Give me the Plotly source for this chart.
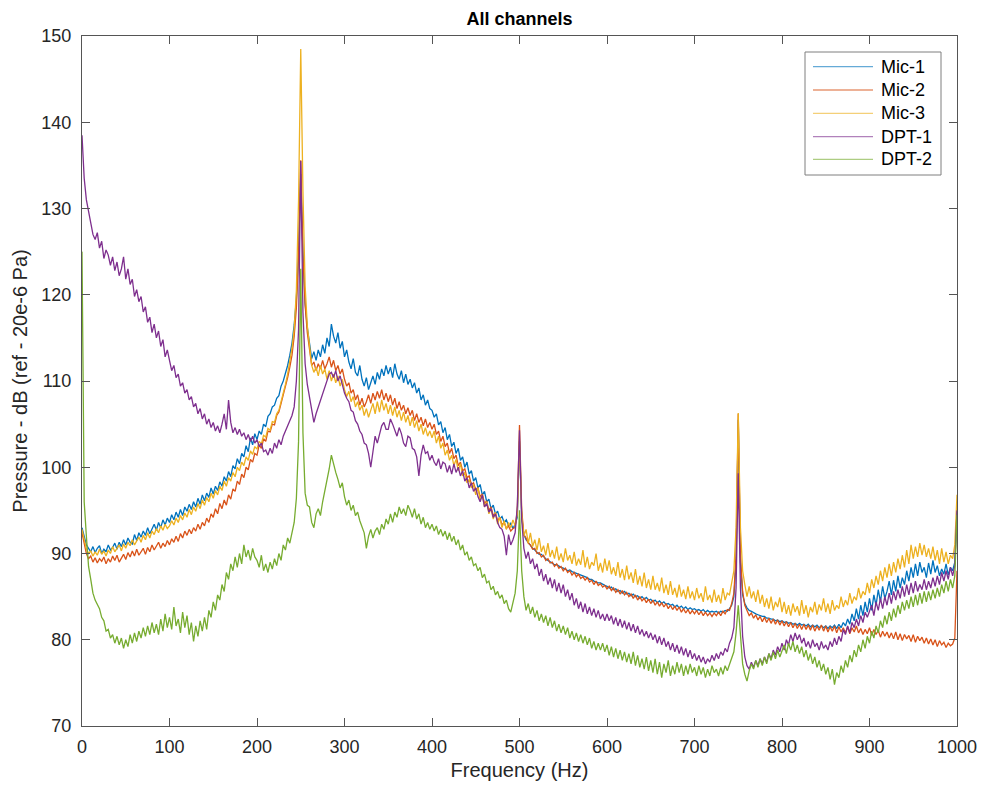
import plotly.graph_objects as go

# frequency grid (Hz), 2.5 Hz spacing
freq = [i * 2.5 for i in range(401)]

mic1 = [
    93.0, 92.0, 91.0, 90.6, 90.2, 90.8, 90.1, 90.6, 90.9, 90.0,
    90.5, 90.2, 91.0, 90.4, 90.7, 91.2, 90.5, 91.3, 90.8, 91.6,
    91.0, 91.8, 91.3, 91.1, 92.2, 91.5, 92.4, 91.9, 92.6, 92.1,
    93.0, 92.3, 92.8, 93.4, 92.7, 93.6, 93.0, 93.9, 93.3, 94.1,
    93.6, 94.5, 93.9, 94.8, 94.2, 95.1, 94.4, 95.4, 94.9, 95.7,
    95.1, 96.0, 95.4, 96.4, 95.7, 96.8, 96.1, 97.0, 96.5, 97.6,
    96.9, 97.8, 97.3, 98.3, 97.8, 98.9, 98.4, 99.5, 98.9, 100.2,
    99.8, 101.0, 100.4, 101.6, 101.2, 102.5, 101.8, 103.4, 102.6, 103.9,
    103.2, 104.2, 103.8, 105.0, 104.7, 105.9, 106.2, 107.0, 107.2, 108.0,
    108.3, 109.4, 110.0, 110.8, 111.8, 113.0, 114.4, 116.5, 119.5, 125.0,
    134.0, 125.0, 119.0, 116.2, 114.2, 112.6, 113.4, 112.4, 113.6, 112.8,
    114.2, 113.2, 115.0, 114.0, 116.6, 115.2, 114.4, 115.6, 113.8, 114.6,
    112.8, 113.6, 112.2, 111.4, 112.6, 111.0, 110.6, 111.8, 110.2, 109.4,
    110.4, 109.0, 109.8, 110.6, 109.6, 111.0, 110.2, 111.4, 110.6, 111.8,
    110.8, 111.6, 110.4, 112.0, 110.8, 110.2, 111.2, 109.8, 110.8, 109.6,
    110.2, 109.2, 109.8, 108.6, 109.2, 107.8, 108.4, 107.2, 107.8, 106.8,
    106.6, 105.8, 106.2, 104.9, 105.3, 104.0, 104.6, 103.2, 103.8, 102.4,
    102.9, 101.6, 102.2, 100.8, 101.2, 100.0, 100.6, 99.2, 99.6, 98.4,
    98.8, 97.6, 98.0, 96.8, 97.2, 96.0, 96.3, 95.2, 95.6, 94.6,
    94.9, 94.0, 94.3, 93.6, 93.9, 93.2, 93.5, 92.9, 93.4, 94.2,
    103.0, 94.2, 92.2, 91.6, 91.3, 90.9, 90.6, 90.4, 90.2, 89.9,
    89.9, 89.6, 89.4, 89.2, 89.0, 88.9, 88.7, 88.7, 88.5, 88.4,
    88.3, 88.2, 88.0, 88.1, 87.9, 87.8, 87.7, 87.6, 87.5, 87.4,
    87.3, 87.2, 87.0, 87.0, 86.8, 86.7, 86.6, 86.6, 86.4, 86.3,
    86.2, 86.0, 86.1, 85.8, 85.9, 85.6, 85.7, 85.4, 85.6, 85.3,
    85.4, 85.1, 85.3, 85.0, 85.1, 84.8, 85.0, 84.7, 84.9, 84.6,
    84.7, 84.4, 84.6, 84.3, 84.5, 84.2, 84.4, 84.1, 84.2, 84.0,
    84.1, 83.8, 84.0, 83.7, 83.9, 83.6, 83.8, 83.5, 83.7, 83.5,
    83.6, 83.4, 83.5, 83.3, 83.5, 83.2, 83.4, 83.2, 83.3, 83.2,
    83.3, 83.1, 83.3, 83.2, 83.4, 83.3, 83.6, 84.0, 85.0, 89.0,
    105.5, 89.0, 85.2, 84.2, 83.7, 83.4, 83.3, 83.1, 83.0, 82.9,
    82.8, 82.7, 82.7, 82.5, 82.5, 82.4, 82.4, 82.2, 82.3, 82.1,
    82.2, 82.0, 82.1, 81.9, 82.0, 81.8, 81.9, 81.7, 81.9, 81.7,
    81.8, 81.6, 81.8, 81.5, 81.7, 81.5, 81.7, 81.4, 81.6, 81.4,
    81.6, 81.3, 81.6, 81.4, 81.7, 81.3, 81.8, 81.4, 82.0, 81.6,
    82.4, 81.8, 83.0, 82.2, 83.6, 82.4, 84.0, 82.8, 84.4, 83.2,
    84.8, 83.4, 85.2, 84.0, 85.8, 84.4, 86.2, 84.8, 85.6, 86.8,
    85.2, 86.9, 85.6, 87.4, 86.0, 87.2, 86.4, 88.0, 86.8, 88.4,
    87.2, 88.8, 87.4, 89.0, 87.8, 88.4, 87.2, 88.9, 87.6, 89.2,
    87.8, 88.6, 87.4, 88.2, 87.6, 88.8, 87.5, 88.4, 88.0, 89.0,
    95.0,
]

mic2 = [
    92.4, 91.0, 90.0, 89.4, 89.7, 89.0, 89.5, 88.9, 89.4, 89.1,
    89.6, 88.8, 89.4, 89.0, 89.7, 89.2, 89.8, 89.0, 89.5, 89.9,
    89.3, 90.1, 89.6, 90.3, 89.7, 90.5, 89.8, 90.2, 90.6, 89.9,
    90.7, 90.2, 91.0, 90.4, 90.8, 91.3, 90.6, 91.2, 90.8, 91.5,
    91.0, 91.7, 91.3, 92.0, 91.4, 92.3, 91.8, 92.6, 92.1, 92.8,
    92.3, 93.0, 92.6, 93.4, 92.8, 93.6, 93.2, 94.1, 93.6, 94.6,
    94.2, 95.2, 94.6, 95.8, 95.2, 96.2, 95.6, 96.8, 96.3, 97.5,
    97.2, 98.4, 98.0, 99.2, 98.8, 100.0, 99.7, 100.9, 100.6, 101.6,
    101.4, 102.6, 102.2, 103.3, 103.0, 104.2, 104.1, 105.0, 104.9, 106.0,
    106.4, 107.4, 108.2, 109.3, 110.4, 111.6, 113.0, 115.2, 118.5, 124.5,
    135.6, 124.5, 118.8, 115.6, 113.4, 111.8, 112.2, 111.2, 112.0, 111.4,
    112.4, 111.4, 112.0, 112.8, 111.6, 112.4, 111.2, 111.8, 110.8, 111.4,
    110.2, 109.4, 109.8, 108.6, 109.0, 107.8, 108.4, 107.2, 108.0, 107.0,
    107.6, 108.4, 107.4, 108.6, 107.8, 108.8, 108.0, 109.0, 107.8, 108.6,
    107.6, 108.4, 107.2, 108.0, 106.8, 107.6, 106.6, 107.2, 106.2, 106.9,
    106.0, 106.6, 105.4, 106.2, 105.2, 105.8, 104.8, 105.6, 104.6, 105.2,
    104.4, 105.0, 103.8, 104.2, 103.0, 103.6, 102.4, 102.8, 101.6, 102.2,
    101.0, 101.4, 100.2, 100.6, 99.6, 99.8, 98.8, 99.0, 98.0, 98.2,
    97.4, 97.6, 96.6, 96.9, 95.8, 96.1, 95.0, 95.4, 94.4, 94.7,
    93.8, 94.2, 93.3, 93.6, 92.9, 93.2, 92.6, 92.9, 93.0, 95.0,
    104.9, 95.0, 92.2, 91.8, 91.2, 91.0, 90.5, 90.6, 90.0, 90.1,
    89.6, 89.8, 89.2, 89.4, 88.9, 89.0, 88.5, 88.8, 88.3, 88.5,
    88.0, 88.3, 87.8, 88.0, 87.5, 87.8, 87.3, 87.6, 87.1, 87.3,
    86.9, 87.2, 86.7, 86.9, 86.4, 86.8, 86.3, 86.5, 86.1, 86.3,
    85.9, 86.2, 85.7, 86.0, 85.5, 85.8, 85.3, 85.7, 85.2, 85.5,
    85.0, 85.3, 84.8, 85.2, 84.6, 85.0, 84.5, 84.8, 84.3, 84.7,
    84.2, 84.6, 84.0, 84.4, 83.9, 84.3, 83.8, 84.2, 83.6, 84.0,
    83.5, 83.9, 83.4, 83.8, 83.2, 83.6, 83.1, 83.5, 83.0, 83.4,
    83.0, 83.4, 82.9, 83.3, 82.8, 83.2, 82.8, 83.1, 82.7, 83.1,
    82.8, 83.2, 82.8, 83.3, 83.0, 83.5, 83.4, 84.2, 85.4, 89.8,
    106.2, 89.8, 85.6, 84.0, 83.4, 82.8, 83.1, 82.5, 82.9, 82.3,
    82.7, 82.1, 82.6, 82.0, 82.5, 81.9, 82.4, 81.8, 82.3, 81.7,
    82.2, 81.6, 82.1, 81.5, 82.0, 81.4, 81.9, 81.3, 81.8, 81.2,
    81.8, 81.2, 81.7, 81.1, 81.7, 81.0, 81.6, 81.1, 81.7, 81.0,
    81.6, 80.9, 81.5, 81.0, 81.6, 80.8, 81.5, 80.9, 81.4, 80.8,
    81.5, 80.7, 81.4, 80.9, 81.6, 80.8, 81.3, 80.6, 81.2, 80.7,
    81.4, 80.5, 81.2, 80.6, 81.1, 80.3, 81.0, 80.4, 80.9, 80.2,
    80.8, 80.1, 80.9, 80.0, 80.7, 79.9, 80.6, 80.1, 80.5, 79.8,
    80.6, 79.7, 80.4, 79.9, 80.3, 79.6, 80.2, 79.5, 80.1, 79.4,
    80.0, 79.2, 79.9, 79.4, 79.7, 79.1, 79.6, 79.3, 79.5, 80.2,
    88.0,
]

mic3 = [
    92.8, 91.6, 90.5, 90.0, 90.3, 89.7, 90.2, 89.8, 90.5, 89.9,
    90.3, 89.7, 90.4, 90.0, 90.8, 90.2, 90.6, 91.0, 90.3, 91.1,
    90.6, 91.3, 90.9, 91.6, 91.0, 91.4, 91.9, 91.3, 92.1, 91.6,
    92.4, 91.8, 92.6, 92.2, 92.9, 92.4, 93.2, 92.7, 93.4, 92.9,
    93.2, 93.8, 93.3, 94.1, 93.6, 94.4, 93.9, 94.7, 94.2, 95.1,
    94.5, 95.4, 94.9, 95.8, 95.2, 96.2, 95.6, 96.5, 96.0, 97.0,
    96.4, 97.3, 96.8, 97.8, 97.3, 98.4, 97.8, 98.8, 98.4, 99.4,
    98.9, 100.0, 99.6, 100.6, 100.2, 101.2, 100.8, 101.9, 101.5, 102.4,
    102.1, 103.0, 102.7, 103.7, 103.5, 104.5, 104.3, 105.3, 105.2, 106.2,
    106.6, 107.6, 108.5, 109.6, 110.8, 112.2, 113.8, 116.0, 120.5, 131.0,
    148.5, 132.0, 121.0, 116.4, 113.8, 111.8, 111.0, 111.6, 110.6, 111.8,
    110.8, 111.4, 110.2, 111.2, 110.0, 110.8, 109.8, 110.6, 109.4, 110.2,
    109.0, 108.2, 108.8, 107.6, 108.2, 107.0, 107.6, 106.6, 107.2, 106.0,
    106.8, 105.8, 106.6, 107.4, 106.2, 107.6, 106.4, 107.8, 106.6, 107.4,
    106.2, 107.2, 106.0, 107.0, 105.8, 106.6, 105.4, 106.4, 105.2, 106.0,
    104.8, 105.8, 104.6, 105.4, 104.2, 105.0, 103.8, 104.6, 103.6, 104.2,
    103.4, 104.2, 102.8, 103.6, 102.2, 102.8, 101.4, 102.0, 100.8, 101.4,
    100.2, 100.9, 99.6, 100.4, 99.0, 99.4, 98.2, 98.6, 97.6, 98.0,
    96.8, 97.6, 96.2, 96.8, 95.4, 96.0, 94.6, 95.2, 94.0, 94.8,
    93.4, 94.2, 93.0, 93.8, 92.8, 93.6, 93.0, 93.9, 93.2, 94.6,
    103.0, 94.6, 92.0, 92.8, 91.2, 92.4, 90.8, 91.6, 90.4, 91.8,
    90.2, 90.9, 89.8, 91.2, 89.6, 90.4, 89.4, 90.8, 89.2, 90.0,
    89.0, 90.6, 89.2, 89.8, 88.8, 90.2, 88.6, 89.4, 88.7, 90.4,
    88.4, 89.6, 88.2, 89.0, 88.6, 90.0, 88.0, 88.9, 87.8, 89.4,
    88.0, 89.2, 87.6, 88.4, 87.4, 89.0, 87.2, 88.2, 86.9, 88.6,
    87.0, 87.8, 86.6, 88.2, 86.4, 87.4, 86.2, 87.8, 86.0, 87.0,
    85.8, 87.4, 85.8, 86.6, 85.6, 87.2, 85.4, 86.4, 85.2, 86.8,
    85.2, 86.0, 84.9, 86.4, 85.0, 85.8, 84.7, 86.2, 84.8, 85.6,
    84.6, 86.0, 84.8, 85.4, 84.4, 86.2, 84.6, 85.2, 84.3, 85.8,
    84.4, 85.2, 84.2, 86.0, 84.6, 85.4, 85.2, 86.4, 88.0, 93.0,
    106.3, 93.0, 88.0, 86.4, 85.0, 86.2, 84.8, 85.6, 84.4, 85.8,
    84.2, 85.2, 83.8, 84.8, 83.6, 85.0, 83.4, 84.4, 83.8, 84.9,
    83.2, 84.4, 83.0, 84.0, 82.8, 84.2, 83.2, 83.9, 82.8, 84.6,
    83.0, 84.0, 82.6, 83.8, 83.2, 84.4, 82.9, 84.1, 83.4, 84.8,
    83.2, 84.2, 83.0, 84.6, 83.4, 84.0, 83.6, 85.0, 83.8, 84.6,
    84.0, 85.4, 84.2, 85.0, 84.6, 86.0, 84.8, 85.6, 85.2, 86.6,
    85.4, 87.0, 86.0, 87.4, 86.4, 88.0, 86.8, 88.4, 87.2, 88.8,
    87.4, 89.0, 87.8, 89.4, 88.2, 89.8, 88.4, 90.4, 88.8, 91.0,
    89.4, 90.8, 89.6, 91.2, 89.8, 91.0, 89.6, 90.6, 89.4, 90.8,
    89.2, 90.4, 88.8, 90.6, 89.0, 90.2, 88.8, 89.8, 89.4, 91.0,
    96.8,
]

dpt1 = [
    138.5, 133.5, 131.0, 129.5, 128.0, 127.0, 126.4, 127.2, 125.4, 126.2,
    124.2, 125.2, 124.6, 123.4, 124.4, 122.8, 123.8, 122.2, 123.0, 124.4,
    121.8, 123.0, 121.2, 121.8, 119.8, 120.6, 119.2, 119.8, 118.0, 118.6,
    116.8, 117.4, 115.6, 116.6, 115.0, 115.8, 114.0, 114.8, 112.8, 113.6,
    112.4, 111.2, 111.8, 110.4, 110.8, 109.4, 109.8, 108.6, 109.0, 107.8,
    108.2, 107.0, 107.4, 106.2, 106.8, 105.6, 106.2, 105.0, 105.6, 104.6,
    105.2, 104.2, 104.8, 104.0, 105.0, 106.2, 104.4, 107.8, 105.2, 104.0,
    104.6, 103.8, 104.4, 103.6, 104.0, 103.2, 103.8, 103.0, 103.6, 102.8,
    103.2, 102.4, 102.8, 101.8, 102.0, 101.4, 102.2, 101.6, 102.8, 102.2,
    103.2, 102.6, 103.6, 104.2, 104.8, 105.4, 106.0, 107.0, 110.0, 116.0,
    135.5, 118.0, 112.0, 109.6, 108.0, 106.4, 105.2, 106.2, 107.0, 107.8,
    108.4, 109.2, 110.0, 110.8, 111.0, 110.4, 111.2, 110.0, 110.6, 109.6,
    108.6, 108.0, 107.6, 106.6, 106.4, 105.4, 105.0, 104.2, 103.8, 102.8,
    102.6, 101.6, 100.0, 101.8, 103.6, 102.8, 104.0, 104.8, 105.2, 104.4,
    104.4, 105.6, 105.0, 104.2, 103.6, 104.6, 103.9, 102.8, 102.4, 103.6,
    103.4, 102.2, 102.0, 101.2, 99.0, 101.4, 102.6, 101.6, 101.8, 100.8,
    101.4, 100.6, 100.2, 101.0, 99.8, 100.6, 100.4, 99.4, 100.2, 99.2,
    100.4, 99.4, 100.0, 99.0, 99.6, 98.4, 98.8, 97.6, 98.2, 97.2,
    97.6, 96.6, 96.0, 96.8, 95.4, 95.8, 94.8, 95.2, 94.2, 94.6,
    93.6, 93.0, 92.8, 92.0, 89.8, 92.2, 91.0, 91.6, 92.4, 95.5,
    104.3, 94.0, 90.6, 89.4, 90.2, 88.8, 89.4, 88.2, 88.8, 87.4,
    88.2, 86.8, 87.6, 86.4, 87.2, 86.0, 87.0, 85.6, 86.6, 85.4,
    86.4, 85.0, 85.8, 84.6, 85.4, 84.0, 84.8, 83.6, 84.4, 83.2,
    84.2, 83.0, 83.8, 82.8, 83.6, 82.6, 83.4, 82.4, 83.0, 82.2,
    83.0, 82.2, 82.8, 81.8, 82.6, 81.6, 82.4, 81.4, 82.2, 81.2,
    82.0, 81.0, 81.8, 80.8, 81.6, 80.6, 81.2, 80.4, 81.0, 80.2,
    80.8, 80.0, 80.6, 79.6, 80.4, 79.4, 80.2, 79.2, 79.8, 78.8,
    79.6, 78.6, 79.4, 78.4, 79.2, 78.2, 79.0, 78.0, 78.8, 77.8,
    78.4, 77.6, 78.2, 77.4, 78.0, 77.2, 77.8, 77.4, 78.2, 77.6,
    78.4, 77.8, 78.6, 78.2, 79.0, 78.6, 79.6, 80.2, 81.4, 86.0,
    99.3, 86.0, 80.4, 78.0, 77.0, 76.6, 77.4, 76.8, 77.6, 77.0,
    77.8, 77.2, 78.0, 77.4, 78.4, 77.8, 78.8, 78.2, 79.2, 78.6,
    79.6, 78.8, 80.0, 79.4, 80.6, 79.8, 80.8, 80.0, 80.6, 79.6,
    80.2, 79.2, 79.8, 79.0, 80.0, 79.2, 79.6, 78.8, 79.8, 79.0,
    79.4, 78.8, 79.8, 79.2, 80.2, 79.4, 80.4, 79.8, 81.2, 80.6,
    81.6, 80.8, 82.0, 81.4, 82.4, 81.6, 82.8, 82.0, 83.2, 82.6,
    83.2, 84.0, 82.8, 84.4, 83.4, 84.8, 83.6, 85.0, 84.0, 85.4,
    84.2, 85.6, 84.6, 85.8, 84.8, 86.2, 85.0, 86.4, 85.2, 86.6,
    85.4, 86.8, 85.6, 86.4, 85.8, 87.0, 85.8, 86.8, 86.0, 87.2,
    86.2, 87.4, 86.4, 87.8, 86.8, 88.0, 87.0, 88.4, 87.4, 88.6,
    95.0,
]

dpt2 = [
    125.0, 96.0, 92.0, 88.5, 87.0, 85.4, 84.6, 84.0, 83.6, 82.6,
    82.2, 81.0, 81.2, 80.2, 80.6, 79.6, 80.4, 79.4, 80.2, 79.0,
    80.0, 79.2, 80.6, 79.6, 80.8, 79.8, 81.0, 80.2, 81.4, 80.4,
    81.6, 80.6, 82.0, 80.8, 81.8, 80.6, 82.4, 81.0, 83.0, 81.4,
    82.6, 81.2, 83.8, 81.6, 82.4, 80.8, 83.2, 81.4, 82.8, 80.6,
    82.0, 79.8, 81.6, 80.4, 82.2, 81.0, 82.6, 81.2, 83.4, 82.6,
    84.4, 83.4, 85.2, 84.6, 86.4, 85.6, 87.8, 87.0, 88.8, 88.0,
    89.6, 88.4, 90.0, 88.8, 91.0, 89.6, 90.4, 89.2, 90.6, 89.6,
    89.2, 88.4, 89.8, 88.0, 88.8, 87.8, 89.0, 88.2, 89.4, 88.6,
    90.0, 89.2, 91.0, 90.4, 91.8, 91.2, 92.6, 93.6, 96.4, 103.0,
    123.0, 104.0, 97.0, 95.6, 95.4, 93.6, 93.0, 94.6, 95.2, 94.4,
    96.0, 97.2, 98.8, 99.8, 101.4, 100.2, 99.4, 98.6, 97.6, 98.2,
    96.6, 95.6, 96.2, 95.0, 95.6, 94.4, 94.8, 93.8, 93.2, 92.4,
    90.6, 92.0, 92.8, 91.8, 92.6, 93.0, 92.2, 93.4, 92.8, 94.0,
    93.4, 94.6, 93.6, 94.8, 94.2, 95.4, 94.6, 95.2, 94.4, 95.6,
    95.0, 94.2, 95.2, 94.0, 94.6, 93.4, 94.2, 93.0, 93.6, 92.8,
    93.4, 92.6, 93.2, 92.2, 92.8, 92.0, 92.6, 91.6, 92.4, 91.4,
    92.0, 91.0, 91.6, 90.4, 91.0, 89.8, 90.2, 89.2, 89.6, 88.6,
    88.8, 88.0, 88.4, 87.2, 87.6, 86.6, 86.8, 85.8, 86.2, 85.2,
    85.6, 84.8, 85.2, 84.2, 84.6, 83.6, 83.2, 84.2, 85.4, 88.0,
    95.0, 88.0, 85.0, 83.4, 84.2, 83.0, 83.8, 82.6, 83.4, 82.2,
    83.0, 82.0, 82.8, 81.6, 82.6, 81.4, 82.2, 81.0, 81.8, 80.8,
    81.6, 80.6, 81.4, 80.2, 81.0, 80.0, 80.8, 79.8, 80.6, 79.6,
    80.4, 79.4, 80.2, 79.0, 79.8, 78.8, 79.6, 78.8, 79.6, 78.6,
    79.4, 78.2, 79.2, 78.0, 79.0, 77.8, 78.8, 77.6, 78.6, 77.4,
    78.4, 77.2, 78.6, 77.0, 78.2, 76.8, 77.8, 76.6, 78.0, 76.4,
    77.6, 76.2, 77.8, 76.0, 77.4, 75.6, 77.2, 76.2, 77.6, 75.8,
    77.0, 76.0, 77.4, 76.2, 77.2, 75.8, 77.0, 76.0, 77.2, 76.2,
    76.8, 75.8, 77.0, 76.0, 76.8, 75.6, 76.6, 75.8, 77.0, 76.2,
    76.6, 75.8, 76.8, 76.0, 77.0, 76.4, 77.2, 77.8, 78.6, 80.8,
    84.0, 80.6, 77.2, 76.0, 75.2, 76.4, 77.2, 76.6, 77.6, 76.8,
    77.8, 77.0, 78.0, 77.2, 78.4, 77.6, 78.6, 77.8, 78.8, 78.0,
    78.6, 79.4, 78.4, 79.6, 78.8, 79.8, 78.6, 79.4, 78.4, 79.2,
    78.0, 78.8, 77.6, 78.4, 77.2, 78.0, 76.8, 77.6, 76.4, 77.2,
    76.0, 76.8, 75.4, 76.6, 74.8, 76.2, 75.6, 77.0, 76.2, 77.6,
    76.8, 78.2, 77.4, 78.8, 78.0, 79.4, 78.6, 80.0, 79.0, 80.4,
    79.6, 81.0, 80.2, 81.6, 80.8, 82.2, 81.4, 82.8, 81.8, 83.2,
    82.2, 83.6, 82.6, 84.0, 83.0, 84.4, 83.4, 84.6, 83.6, 85.0,
    83.8, 85.2, 84.0, 85.4, 84.2, 85.6, 84.4, 85.6, 84.6, 85.8,
    84.8, 86.0, 85.0, 86.4, 85.4, 86.8, 85.6, 87.0, 86.0, 87.4,
    94.5,
]

names = ["Mic-1", "Mic-2", "Mic-3", "DPT-1", "DPT-2"]
series = [mic1, mic2, mic3, dpt1, dpt2]
colors = ["#0072BD", "#D95319", "#EDB120", "#7E2F8E", "#77AC30"]

for s in series:
    assert len(s) == len(freq), len(s)

FONT = "Liberation Sans, Arial, Helvetica, sans-serif"
AX = "#262626"
AXLINE = "#555555"

fig = go.Figure()
for name, ys, c in zip(names, series, colors):
    fig.add_trace(go.Scatter(x=freq, y=ys, mode="lines", name=name,
                             line=dict(color=c, width=1.3), showlegend=False))

axis_common = dict(
    showline=True, linecolor=AXLINE, linewidth=1, mirror="ticks",
    ticks="inside", ticklen=8, tickcolor=AXLINE, tickwidth=1,
    showgrid=False, zeroline=False, automargin=False,
    tickfont=dict(family=FONT, size=18, color=AX),
)

W, H = 984, 789
PL, PR, PT, PB = 82, 957, 36, 726   # plot-area edges in page pixels

fig.update_layout(
    width=W, height=H,
    margin=dict(l=PL, r=W - PR, t=PT, b=H - PB),
    paper_bgcolor="white", plot_bgcolor="white",
    font=dict(family=FONT, size=18, color=AX),
    title=dict(text="<b>All channels</b>", x=0.5, xref="paper", xanchor="center",
               y=1 - 19 / H, yref="container", yanchor="middle",
               font=dict(family=FONT, size=18, color="#000000")),
    xaxis=dict(range=[0, 1000], tick0=0, dtick=100, ticklabelstandoff=4,
               title=dict(text="Frequency (Hz)", font=dict(family=FONT, size=20, color=AX), standoff=7),
               **axis_common),
    yaxis=dict(range=[70, 150], tick0=70, dtick=10, ticklabelstandoff=6,
               title=dict(text="Pressure - dB (ref - 20e-6 Pa)", font=dict(family=FONT, size=20, color=AX), standoff=8),
               **axis_common),
    showlegend=False,
)

# legend box drawn in plot-area (paper) coordinates
def px_x(px):
    return (px - PL) / (PR - PL)

def px_y(py):
    return (PB - py) / (PB - PT)

fig.add_shape(type="rect", xref="paper", yref="paper",
              x0=px_x(805), x1=px_x(941), y0=px_y(175), y1=px_y(52),
              line=dict(color="#7f7f7f", width=1), fillcolor="white", layer="above")
entry_y = [66.7, 90.0, 113.3, 136.7, 159.3]
for name, c, ey in zip(names, colors, entry_y):
    fig.add_shape(type="line", xref="paper", yref="paper",
                  x0=px_x(813), x1=px_x(873), y0=px_y(ey), y1=px_y(ey),
                  line=dict(color=c, width=1.3), opacity=0.6, layer="above")
    fig.add_annotation(xref="paper", yref="paper", x=px_x(879), y=px_y(ey),
                       text=name, showarrow=False, xanchor="left", yanchor="middle",
                       font=dict(family=FONT, size=18, color="#000000"))

# remove the default 8px body margin so the figure fills the window exactly
fig.write_html("out.html",
               config={"displayModeBar": False},
               post_script="document.body.style.margin='0';document.body.style.overflow='hidden';")
